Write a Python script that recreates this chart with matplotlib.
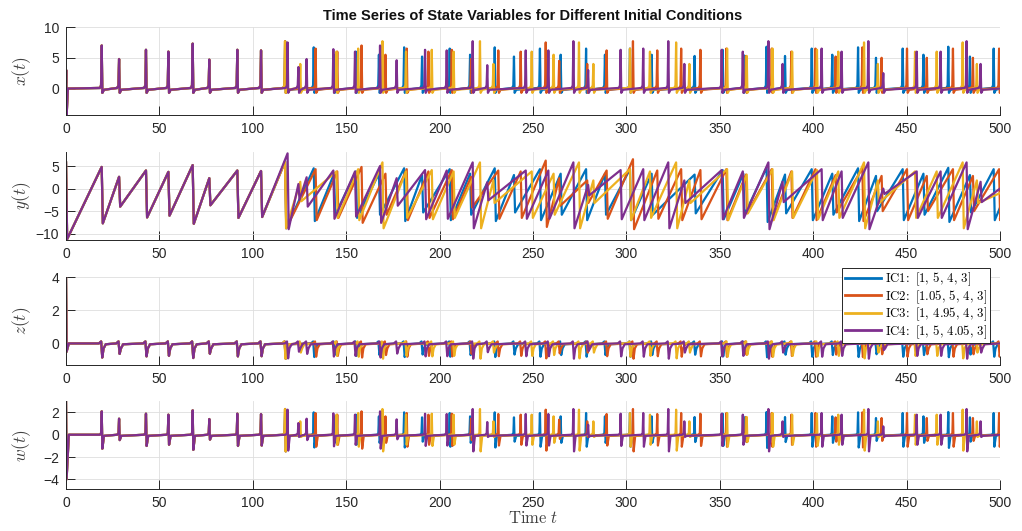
import matplotlib
matplotlib.use('Agg')

import matplotlib.pyplot as plt

plt.rcParams['font.family'] = ['Liberation Sans', 'DejaVu Sans']
plt.rcParams['mathtext.fontset'] = 'cm'

# spikes common to all four runs before they drift apart (t < 117)
shared_t = [19.1, 28.4, 42.8, 54.8, 67.8, 76.7, 91.7, 104.4]
shared_x = [7.0, 4.8, 6.3, 6.0, 7.3, 4.7, 6.3, 6.2]
shared_ypk = [4.8, 2.6, 4.0, 3.7, 5.2, 2.3, 4.0, 3.9]
shared_ylo = [-7.7, -4.0, -6.4, -6.0, -7.8, -3.7, -6.5, -6.3]

# IC1 spikes after divergence: time, x peak, y before / after the drop
ic1_t = [117.3, 132.6, 143.5, 155.2, 167.5, 181.0, 190.6, 205.4, 216.3, 229.5, 239.8,
         253.7, 264.8, 278.4, 288.5, 301.9, 313.5, 336.5, 351.5, 362.6, 375.0, 384.9,
         399.2, 410.2, 424.0, 433.6, 447.9, 459.0, 472.3, 483.9, 496.6]
ic1_x = [7.7, 6.7, 5.5, 6.0, 5.5, 6.7, 5.2, 6.5, 5.5, 6.7, 5.2,
         6.5, 5.5, 6.5, 5.5, 6.5, 5.5, 5.3, 6.3, 5.5, 6.8, 5.3,
         6.5, 5.5, 6.7, 5.0, 6.5, 5.5, 6.8, 5.2, 6.5]
ic1_ypk = [6.0, 4.5, 3.3, 3.8, 3.3, 4.5, 3.0, 4.3, 3.3, 4.5, 3.0,
           4.3, 3.3, 4.3, 3.3, 4.3, 3.3, 3.1, 4.1, 3.3, 4.6, 3.1,
           4.3, 3.3, 4.5, 2.8, 4.3, 3.3, 4.6, 3.0, 4.3]
ic1_ylo = [-8.8, -7.2, -5.8, -6.5, -5.8, -7.2, -5.3, -7.0, -5.8, -7.2, -5.3,
           -7.0, -5.8, -7.0, -5.8, -7.0, -5.8, -5.5, -6.8, -5.8, -7.4, -5.5,
           -7.0, -5.8, -7.2, -5.0, -7.0, -5.8, -7.4, -5.3, -7.0]

ic2_t = [117.3, 133.6, 145.2, 158.2, 171.0, 182.4, 194.0, 206.5, 216.8, 231.4, 243.4,
         256.8, 264.0, 279.0, 289.4, 303.5, 316.5, 329.3, 339.6, 353.5, 364.0, 377.8,
         388.3, 401.2, 412.0, 426.3, 436.6, 450.2, 460.8, 474.8, 485.5, 499.5]
ic2_x = [7.7, 6.5, 6.0, 7.0, 5.5, 6.5, 6.0, 6.3, 4.8, 6.2, 6.0,
         7.5, 4.5, 4.0, 6.2, 7.7, 6.2, 6.5, 6.3, 6.5, 5.3, 6.5,
         6.0, 6.5, 5.2, 6.7, 5.0, 6.5, 5.0, 6.5, 5.0, 6.5]
ic2_ypk = [6.0, 4.3, 3.8, 4.8, 3.3, 4.3, 3.8, 4.1, 2.6, 4.0, 3.8,
           6.2, 2.3, 1.8, 4.0, 6.5, 4.0, 4.3, 4.1, 4.3, 3.1, 4.3,
           3.8, 4.3, 3.0, 4.5, 2.8, 4.3, 2.8, 4.3, 2.8, 4.3]
ic2_ylo = [-8.8, -7.0, -6.5, -7.6, -5.8, -7.0, -6.5, -6.8, -4.2, -6.7, -6.5,
           -8.5, -3.8, -3.2, -6.7, -9.0, -6.7, -7.0, -6.8, -7.0, -5.5, -7.0,
           -6.5, -7.0, -5.3, -7.2, -5.0, -7.0, -5.0, -7.0, -5.0, -7.0]

ic3_t = [117.2, 125.4, 144.8, 156.4, 169.4, 182.0, 195.8, 207.5, 221.6, 228.8, 249.3,
         261.0, 274.6, 282.3, 301.9, 312.6, 326.6, 333.7, 353.9, 364.4, 378.2, 388.7,
         402.0, 413.4, 427.2, 434.6, 454.5, 466.1, 480.0, 487.6]
ic3_x = [7.7, 4.0, 6.0, 6.5, 7.7, 6.0, 6.3, 6.0, 7.7, 4.0, 6.0,
         5.5, 7.5, 4.0, 6.5, 6.0, 7.5, 4.0, 6.5, 5.3, 6.5, 6.0,
         6.3, 6.0, 7.5, 4.0, 6.0, 6.0, 7.5, 4.0]
ic3_ypk = [6.0, 1.5, 3.8, 4.3, 5.8, 3.8, 4.1, 3.8, 5.8, 1.8, 3.8,
           3.3, 5.8, 1.8, 4.3, 3.8, 5.8, 1.8, 4.3, 3.1, 4.3, 3.8,
           4.1, 3.8, 5.8, 1.8, 3.8, 3.8, 5.8, 1.8]
ic3_ylo = [-8.8, -2.8, -6.5, -7.0, -8.8, -6.5, -6.8, -6.5, -8.8, -3.2, -6.5,
           -5.8, -8.8, -3.2, -7.0, -6.5, -8.8, -3.2, -7.0, -5.5, -7.0, -6.5,
           -6.8, -6.5, -8.8, -3.2, -6.5, -6.5, -8.8, -3.2]

ic4_t = [118.6, 124.4, 128.8, 143.1, 154.7, 168.1, 177.0, 192.2, 203.8, 217.7, 225.5,
         246.1, 258.2, 271.6, 279.5, 296.9, 309.0, 322.4, 331.0, 351.0, 362.3, 376.0,
         383.6, 404.5, 415.2, 429.5, 437.5, 455.4, 468.2, 482.1, 489.6]
ic4_x = [7.5, 3.5, 4.8, 6.4, 6.0, 7.0, 4.6, 6.3, 6.2, 7.7, 3.8,
         6.2, 6.2, 7.7, 3.0, 6.3, 6.5, 7.7, 4.0, 6.3, 6.0, 7.7,
         4.0, 6.5, 6.0, 7.7, 2.5, 6.0, 6.0, 7.7, 4.0]
ic4_ypk = [7.8, 1.0, 2.5, 4.0, 3.8, 5.0, 2.3, 4.1, 4.0, 5.8, 1.4,
           4.0, 4.0, 5.8, 0.8, 4.1, 4.3, 5.8, 1.8, 4.1, 3.8, 5.8,
           1.5, 4.3, 3.8, 5.8, 0.0, 3.8, 3.8, 5.8, 1.5]
ic4_ylo = [-9.0, -2.5, -4.0, -6.7, -6.2, -7.6, -3.8, -6.8, -6.7, -8.8, -2.6,
           -6.7, -6.7, -8.8, -1.5, -6.8, -7.0, -8.8, -3.2, -6.8, -6.5, -9.0,
           -3.0, -7.0, -6.5, -9.0, -1.2, -6.5, -6.5, -9.0, -3.0]

y_end = [-4.2, -6.8, -1.0, 0.0]

labels = [r'$\mathrm{IC1\!:\ [1,\,5,\,4,\,3]}$',
          r'$\mathrm{IC2\!:\ [1.05,\,5,\,4,\,3]}$',
          r'$\mathrm{IC3\!:\ [1,\,4.95,\,4,\,3]}$',
          r'$\mathrm{IC4\!:\ [1,\,5,\,4.05,\,3]}$']
colors = ['#0072BD', '#D95319', '#EDB120', '#7E2F8E']

runs = [(ic1_t, ic1_x, ic1_ypk, ic1_ylo),
        (ic2_t, ic2_x, ic2_ypk, ic2_ylo),
        (ic3_t, ic3_x, ic3_ypk, ic3_ylo),
        (ic4_t, ic4_x, ic4_ypk, ic4_ylo)]


def x_path(ts, amps):
    tt, vv = [0, 0.1, 0.35, 1.0], [1.0, 3.0, -4.2, 0.0]
    for t, a in zip(ts, amps):
        tt += [t - 1.0, t - 0.35, t, t + 0.35, t + 1.2]
        vv += [0.1, 0.5, a, -0.7, -0.2]
    return tt + [500], vv + [0.0]


def y_path(ts, pk, lo, end):
    tt, vv = [0, 0.6], [5.8, -11.2]
    for t, a, b in zip(ts, pk, lo):
        tt += [t, t + 0.6]
        vv += [a, b]
    return tt + [500], vv + [end]


def z_path(ts, amps):
    tt, vv = [0, 0.3, 1.5], [4.0, -0.5, 0.0]
    for t, a in zip(ts, amps):
        tt += [t - 1.5, t - 0.3, t + 0.3, t + 1.0, t + 2.2]
        vv += [0.0, 0.12, -(0.1 * a + 0.15), -0.3, -0.05]
    return tt + [500], vv + [0.0]


def w_path(ts, amps):
    tt, vv = [0, 0.3, 1.5], [3.0, -4.0, 0.0]
    for t, a in zip(ts, amps):
        tt += [t - 1.0, t - 0.3, t, t + 0.35, t + 1.2]
        vv += [0.0, 0.15, 0.3 * a, -max(0.35 * a - 1.2, 0.2), -0.1]
    return tt + [500], vv + [0.0]


fig = plt.figure(figsize=(10.22, 5.31), dpi=100)
left, width, height = 0.0646, 0.9139, 0.1657
bottoms = [0.7834, 0.548, 0.3126, 0.0785]
axes = [fig.add_axes([left, b, width, height]) for b in bottoms]

ylims = [(-4.3, 10), (-11.4, 8.1), (-1.3, 4), (-4.9, 3.0)]
yticks = [[0, 5, 10], [-10, -5, 0, 5], [0, 2, 4], [-4, -2, 0, 2]]
ylabels = [r'$x(t)$', r'$y(t)$', r'$z(t)$', r'$w(t)$']

for k, (ts, xs, pk, lo) in enumerate(runs):
    t_all = shared_t + ts
    x_all = shared_x + xs
    c = colors[k]
    axes[0].plot(*x_path(t_all, x_all), color=c, lw=1.6)
    axes[1].plot(*y_path(t_all, shared_ypk + pk, shared_ylo + lo, y_end[k]), color=c, lw=1.6)
    axes[2].plot(*z_path(t_all, x_all), color=c, lw=1.6, label=labels[k])
    axes[3].plot(*w_path(t_all, x_all), color=c, lw=1.6)

for ax, yl, yt, lab in zip(axes, ylims, yticks, ylabels):
    ax.set_xlim(0, 500)
    ax.set_ylim(*yl)
    ax.set_xticks(range(0, 501, 50))
    ax.set_yticks(yt)
    ax.grid(True, color='#dedede', lw=0.6)
    ax.set_axisbelow(True)
    for s in ['top', 'right']:
        ax.spines[s].set_visible(False)
    for s in ['left', 'bottom']:
        ax.spines[s].set_color('#262626')
        ax.spines[s].set_linewidth(0.7)
    ax.tick_params(direction='in', length=6.5, width=0.7, colors='#262626',
                   labelsize=10, pad=5)
    ax.set_ylabel(lab, fontsize=12.5, color='#404040')
    ax.yaxis.set_label_coords(-0.035, 0.5)

axes[0].set_title('Time Series of State Variables for Different Initial Conditions',
                  fontsize=10.5, fontweight='bold', color='#111111', pad=5)
axes[3].set_xlabel(r'$\mathrm{Time}\ t$', fontsize=12, color='#404040', labelpad=0)

h, l = axes[2].get_legend_handles_labels()
leg = fig.legend(h, l, loc='upper right', bbox_to_anchor=(0.9687, 0.4953),
                 fontsize=9.2, frameon=True, fancybox=False, framealpha=1,
                 edgecolor='#262626', borderpad=0.2, handlelength=2.8,
                 handletextpad=0.35, labelspacing=0.0, borderaxespad=0)
leg.get_frame().set_linewidth(0.7)
for line in leg.get_lines():
    line.set_linewidth(2)

fig.savefig('out.png', dpi=100)
plt.close(fig)
